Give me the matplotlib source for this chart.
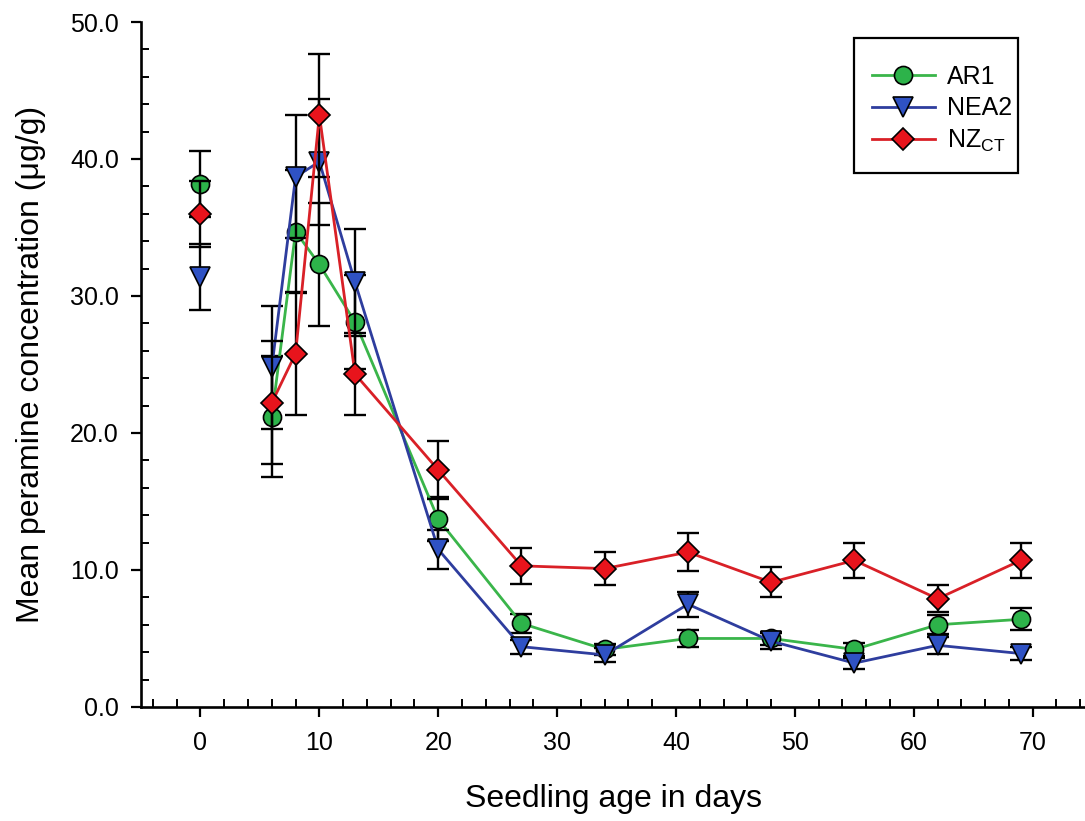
import matplotlib
matplotlib.use('Agg')
import matplotlib.pyplot as plt
from matplotlib.lines import Line2D
from matplotlib.patches import Rectangle
from matplotlib.ticker import MultipleLocator, FormatStrFormatter

plt.rcParams['font.family'] = ['Liberation Sans', 'DejaVu Sans']
plt.rcParams['mathtext.fontset'] = 'custom'
plt.rcParams['mathtext.rm'] = 'Liberation Sans'

# 데이터
days = [0, 6, 8, 10, 13, 20, 27, 34, 41, 48, 55, 62, 69]

ar1 = [38.2, 21.2, 34.7, 32.3, 28.1, 13.7, 6.1, 4.2, 5.0, 5.0, 4.2, 6.0, 6.4]
ar1_err = [2.4, 4.4, 4.5, 4.5, 3.4, 1.6, 0.7, 0.4, 0.6, 0.5, 0.5, 0.7, 0.8]

nea2 = [31.4, 24.8, 38.7, 39.8, 31.0, 11.5, 4.4, 3.8, 7.5, 4.8, 3.2, 4.5, 3.9]
nea2_err = [2.4, 4.5, 4.5, 4.6, 3.9, 1.4, 0.5, 0.5, 0.9, 0.6, 0.4, 0.6, 0.5]

nzct = [36.0, 22.2, 25.8, 43.2, 24.3, 17.3, 10.3, 10.1, 11.3, 9.1, 10.7, 7.9, 10.7]
nzct_err = [2.4, 4.5, 4.5, 4.5, 3.0, 2.1, 1.3, 1.2, 1.4, 1.1, 1.3, 1.0, 1.3]

labels = ['AR1', 'NEA2', r'NZ$_{\mathregular{CT}}$']

# 스타일
series = [
    (ar1, ar1_err, 'o', 13, '#2DB34A', '#3AB54A'),
    (nea2, nea2_err, 'v', 14, '#2F52C4', '#2E3D9E'),
    (nzct, nzct_err, 'D', 11, '#E8141C', '#D92027'),
]

fig = plt.figure(figsize=(10.85, 8.21), dpi=100)
ax = fig.add_axes([0.1300, 0.1389, 0.8700, 0.8343])

handles = []
for i, (vals, errs, mk, ms, face, lc) in enumerate(series):
    z = 3 + i
    ax.errorbar(days, vals, yerr=errs, fmt='none', ecolor='black',
                elinewidth=1.7, capsize=7.8, capthick=1.7, zorder=z)
    # 0일은 선으로 연결하지 않음
    ax.plot(days[1:], vals[1:], color=lc, lw=2.0, zorder=z + 0.1)
    ax.plot(days, vals, linestyle='none', marker=mk, markersize=ms,
            markerfacecolor=face, markeredgecolor='black', markeredgewidth=1.2,
            zorder=z + 0.2)
    handles.append(Line2D([], [], color=lc, lw=2.0, marker=mk, markersize=ms,
                          markerfacecolor=face, markeredgecolor='black',
                          markeredgewidth=1.2))

ax.set_xlim(-5, 74.4)
ax.set_ylim(0, 50)

ax.xaxis.set_major_locator(MultipleLocator(10))
ax.xaxis.set_minor_locator(MultipleLocator(2))
ax.yaxis.set_major_locator(MultipleLocator(10))
ax.yaxis.set_minor_locator(MultipleLocator(2))
ax.yaxis.set_major_formatter(FormatStrFormatter('%.1f'))

for s in ['top', 'right']:
    ax.spines[s].set_visible(False)
for s in ['left', 'bottom']:
    ax.spines[s].set_linewidth(1.9)

ax.tick_params(which='major', direction='out', length=7, width=1.6,
               labelsize=18)
ax.tick_params(which='minor', direction='in', length=5.5, width=1.4)
ax.tick_params(axis='y', which='major', pad=9)
ax.tick_params(axis='x', which='major', pad=10)

ax.set_xlabel('Seedling age in days', fontsize=23)
ax.xaxis.set_label_coords(0.5, -0.112)
ax.set_ylabel('Mean peramine concentration (\u03bcg/g)', fontsize=23)
ax.yaxis.set_label_coords(-0.101, 0.5)

# 범례 (테두리는 직접 그림)
leg = ax.legend(handles, labels, loc='upper left',
                bbox_to_anchor=(872 / 1085, 1 - 65 / 821),
                bbox_transform=fig.transFigure, borderaxespad=0,
                fontsize=18, frameon=False,
                handlelength=2.5, handletextpad=0.5, borderpad=0,
                labelspacing=0.3)
fig.patches.append(Rectangle((854 / 1085, 1 - 173 / 821), 164 / 1085, 135 / 821,
                             transform=fig.transFigure, fill=False,
                             edgecolor='black', linewidth=1.6, zorder=10))

fig.savefig('out.png', dpi=100, facecolor='white')
